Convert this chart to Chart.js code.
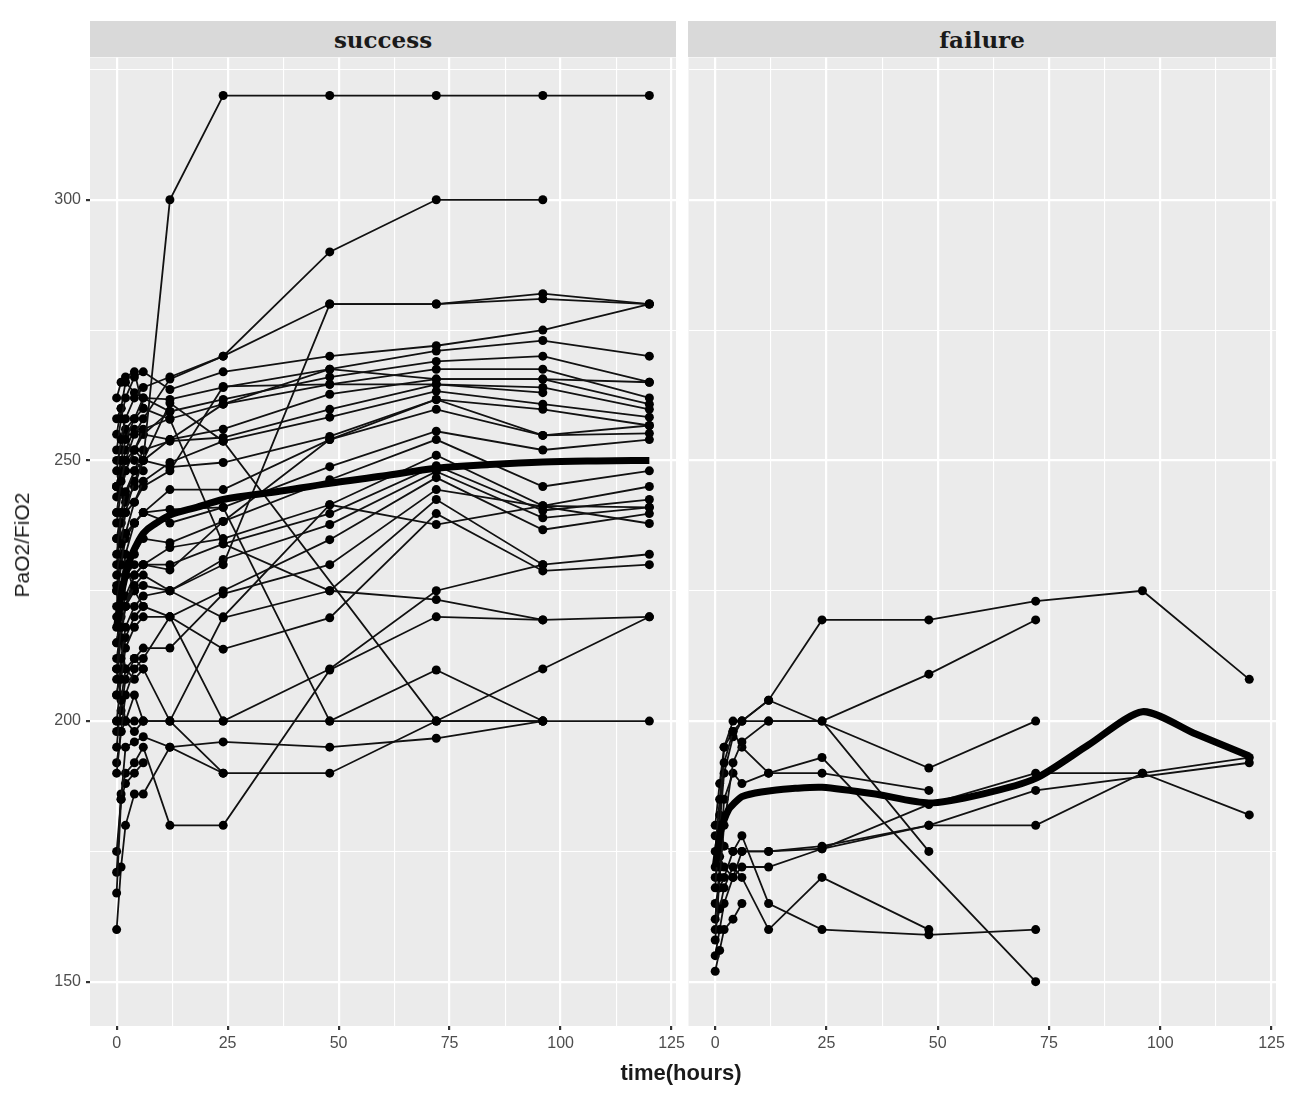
<!DOCTYPE html>
<html>
<head>
<meta charset="utf-8">
<script src="https://cdn.jsdelivr.net/npm/chart.js@4.4.1/dist/chart.umd.min.js"></script>
<style>
  body { margin: 0; background: #fff; width: 1298px; height: 1095px; position: relative; overflow: hidden; font-family: "Liberation Sans", Arial, sans-serif; }
  .panel { position: absolute; }
  .strip { position: absolute; top: 21px; height: 36px; background: #d9d9d9; color: #1a1a1a;
           font: bold 23px "DejaVu Serif", serif; display: flex; align-items: center; justify-content: center; }
  .ytitle { position: absolute; left: 22px; top: 545px; transform: translate(-50%, -50%) rotate(-90deg);
            font-size: 21px; color: #1a1a1a; white-space: nowrap; }
  .xtitle { position: absolute; left: 681px; top: 1073px; transform: translate(-50%, -50%);
            font-size: 22px; font-weight: bold; color: #1a1a1a; white-space: nowrap; }
</style>
</head>
<body>
<div class="strip" style="left:90px;width:586px">success</div>
<div class="strip" style="left:688px;width:588px">failure</div>
<div class="panel" style="left:0;top:53px;width:700px;height:1008px"><canvas id="left"></canvas></div>
<div class="panel" style="left:684px;top:53px;width:614px;height:1008px"><canvas id="right"></canvas></div>
<div class="ytitle">PaO2/FiO2</div>
<div class="xtitle">time(hours)</div>
<script>
// measurement times (hours)
const hours = [0, 1, 2, 4, 6, 12, 24, 48, 72, 96, 120]

// success group, one row per patient, values at `hours` (null = not measured)
const successLines = [
  [232, 240, 244, 248, 250, 300, 320, 320, 320, 320, 320],
  [248, 254, 258, 262, 264, 266, 270, 290, 300, 300, null],
  [240, 246, 250, 255, 258, 265.6, 270, 280, 280, 282, 280],
  [210, 218, 222, 226, 228, 225, 230, 280, 280, 281, 280],
  [252, 258, 262, 266, 267, 263.6, 267, 270, 272, 275, 280],
  [245, 250, 254, 258, 262, 261.7, 264, 267.5, 271, 273, 270],
  [255, 260, 265, 263, 262, 259.4, 261.7, 266, 269, 270, 265],
  [238, 244, 248, 252, 256, 258, 260.8, 264.6, 267.5, 267.5, 262],
  [228, 234, 240, 246, 250, 254, 256, 262.7, 265.6, 265.6, 260.8],
  [235, 240, 243, 248, 252, 253.7, 254.4, 259.8, 264.6, 264, 259.8],
  [222, 230, 236, 242, 246, 249.6, 253.7, 258.3, 263.3, 260.8, 258.3],
  [243, 247, 250, 252, 250, 248.7, 249.6, 254.6, 261.7, 259.8, 256.7],
  [218, 226, 232, 238, 240, 244.4, 244.4, 254, 259.8, 254.8, 255.2],
  [226, 232, 236, 238, 240, 240.6, 241, 248.8, 255.6, 252, 254],
  [215, 222, 228, 232, 235, 234.2, 238.3, 246.3, 254, 245, 248],
  [208, 216, 222, 228, 230, 233.3, 235, 241.5, 251, 241.3, 245],
  [220, 225, 228, 230, 230, 230, 234, 239.8, 249, 240.4, 242.5],
  [205, 212, 218, 222, 224, 225, 231, 237.7, 247.9, 239, 241],
  [200, 208, 214, 218, 220, 220, 225, 234.8, 246.7, 236.7, 239.8],
  [195, 204, 210, 212, 214, 214, 224.4, 230, 244.4, null, 237.9],
  [212, 218, 222, 225, 226, 225, 219.8, 225, 242.5, 230, 232],
  [190, 198, 205, 210, 212, 220, 213.8, 219.8, 239.8, 228.8, 230],
  [200, 200, 200, 200, 200, 200, 200, 200, 200, 200, 200],
  [167, 185, 195, 196, 197, 195, 196, 195, 196.7, 200, null],
  [171, 186, 190, 192, 195, 180, 180, 209.8, 220, 219.4, 220],
  [192, 198, 200, 205, 200, 200, 190, 190, 200, 210, 220],
  [230, 238, 242, 245, 250, 261, 253.7, null, 200, 200, null],
  [225, 230, 235, 238, 240, 238, 241, 200, 209.8, 200, null],
  [205, 210, 216, 220, 222, 220, 200, 210, 225, 230, null],
  [198, 202, 208, 212, 210, 200, 220, 241.5, 237.7, 241.3, 241],
  [250, 252, 256, 258, 260, 257.9, 234, 225, 223.3, 219.4, null],
  [235, 238, 240, 242, 245, 248, 264.2, 264.6, 264.6, 263, null],
  [215, 220, 224, 228, 230, 229, 238.3, 254, 261.7, 254.8, 256.7],
  [245, 248, 252, 256, 255, 254, 260.8, 267.5, 265.6, 265.6, 265],
  [160, 172, 180, 186, 186, 195, 190, null, null, null, null],
  [262, 265, 266, 267, 260, null, null, null, null, null, null],
  [258, 260, 255, 250, 248, null, null, null, null, null, null],
  [240, 235, 230, 225, 222, null, null, null, null, null, null],
  [225, 215, 210, 208, 210, null, null, null, null, null, null],
  [210, 205, 200, 198, 200, null, null, null, null, null, null],
  [175, 185, 188, 190, 192, null, null, null, null, null, null],
  [245, 250, 248, 252, 255, 259.4, null, null, null, null, null],
]

// failure group
const failureLines = [
  [175, 185, 192, 198, 200, 204, 219.4, 219.4, 223, 225, 208],
  [168, 180, 190, 197, 200, 200, 200, 209, 219.4, null, null],
  [172, 182, 195, 200, 200, 204, null, 191, 200, null, null],
  [158, 170, 180, 192, 196, 200, 200, 175, null, null, null],
  [162, 172, 185, 190, 188, 190, 193, null, 150, null, null],
  [178, 180, 176, 175, 175, 175, 175.5, 184, 190, 190, 193],
  [170, 174, 172, 170, 172, 172, 175.5, 180, 180, 190, 182],
  [165, 168, 170, 175, 178, 165, 160, 159, 160, null, null],
  [160, 164, 168, 172, 170, 160, 170, 160, null, null, null],
  [152, 156, 160, 162, 165, null, null, null, null, null, null],
  [180, 188, 195, 198, 195, 190, 190, 186.7, null, null, null],
  [155, 160, 165, 170, 175, 175, 176, 180, 186.7, null, 192],
]

// smoothed group trend (thick line)
const smoothHours = [0, 1, 2, 3, 4, 6, 9, 12, 18, 24, 36, 48, 60, 72, 84, 96, 108, 120]
const successSmooth = [218, 224, 228, 231, 233, 236, 238, 239.5, 241, 242.5, 244, 245.6, 247, 248.5, 249.2, 249.7, 249.9, 250]
const failureSmooth = [172, 178, 181, 183, 184, 185.5, 186.2, 186.6, 187.1, 187.3, 186, 184.3, 186, 189, 195.5, 201.8, 197.5, 193.3]

const xTicksMajor = 25
const yTicksMajor = 50

function toPoints(xs, ys) {
  return xs.map((x, i) => ({ x, y: ys[i] })).filter((p) => p.y !== null)
}

const panelBg = {
  id: 'panelBg',
  beforeDraw(chart) {
    const { ctx, chartArea: a } = chart
    ctx.save()
    ctx.fillStyle = '#ebebeb'
    ctx.fillRect(a.left, a.top, a.right - a.left, a.bottom - a.top)
    ctx.restore()
  },
}

const isMajor = (v, step) => Math.abs(v / step - Math.round(v / step)) < 1e-6

function makePanel(id, lines, smooth, showY, smoothMode) {
  const datasets = [
    {
      data: toPoints(smoothHours, smooth),
      borderColor: '#000',
      borderWidth: 7,
      pointRadius: 0,
      cubicInterpolationMode: smoothMode,
      tension: smoothMode === 'monotone' ? 0.4 : 0.25,
    },
  ]
  lines.forEach((row) => {
    datasets.push({
      data: toPoints(hours, row),
      borderColor: '#111',
      borderWidth: 1.8,
      pointRadius: 4.5,
      pointBackgroundColor: '#000',
      pointBorderWidth: 0,
      tension: 0,
    })
  })

  new Chart(document.getElementById(id), {
    type: 'line',
    data: { datasets },
    plugins: [panelBg],
    options: {
      responsive: true,
      maintainAspectRatio: false,
      animation: false,
      layout: { padding: { left: 0, right: showY ? 24 : 22, top: 0, bottom: 0 } },
      plugins: { legend: { display: false }, tooltip: { enabled: false } },
      scales: {
        x: {
          type: 'linear',
          min: -6,
          max: 126,
          afterFit: (s) => { s.height = 35 },
          border: { display: false },
          grid: {
            color: '#ffffff',
            lineWidth: (c) => (c.tick && isMajor(c.tick.value, xTicksMajor) ? 2.2 : 1.1),
            tickColor: (c) => (c.tick && isMajor(c.tick.value, xTicksMajor) ? '#333333' : 'rgba(0,0,0,0)'),
            tickLength: 4,
          },
          ticks: {
            stepSize: 12.5,
            includeBounds: false,
            autoSkip: false,
            maxRotation: 0,
            padding: 4,
            color: '#4d4d4d',
            font: { family: 'Liberation Sans', size: 16 },
            callback: (v) => (isMajor(v, xTicksMajor) ? String(v) : ''),
          },
        },
        y: {
          min: 141.5,
          max: 327.3,
          afterFit: (s) => {
            s.width = showY ? 90 : 0
            s.paddingTop = 0
            s.paddingBottom = 0
          },
          border: { display: false },
          grid: {
            color: '#ffffff',
            lineWidth: (c) => (c.tick && isMajor(c.tick.value, yTicksMajor) ? 2.2 : 1.1),
            tickColor: (c) => (showY && c.tick && isMajor(c.tick.value, yTicksMajor) ? '#333333' : 'rgba(0,0,0,0)'),
            tickLength: showY ? 4 : 0,
            drawTicks: showY,
          },
          ticks: {
            display: showY,
            stepSize: 25,
            includeBounds: false,
            padding: 5,
            color: '#4d4d4d',
            font: { family: 'Liberation Sans', size: 16 },
            callback: (v) => (isMajor(v, yTicksMajor) ? String(v) : ''),
          },
        },
      },
    },
  })
}

makePanel('left', successLines, successSmooth, true, 'monotone')
makePanel('right', failureLines, failureSmooth, false, 'default')
</script>
</body>
</html>
